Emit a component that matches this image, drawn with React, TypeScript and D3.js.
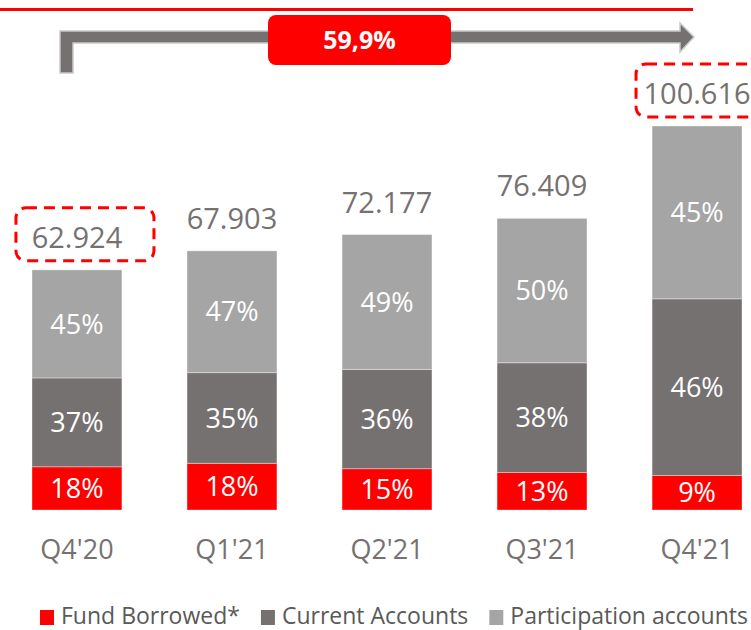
import React, { useRef, useEffect } from "react";
import * as d3 from "d3";

const quarters = ["Q4'20", "Q1'21", "Q2'21", "Q3'21", "Q4'21"];
const totals = [62924, 67903, 72177, 76409, 100616];
const totalLabels = ["62.924", "67.903", "72.177", "76.409", "100.616"];
const fundBorrowed = [18, 18, 15, 13, 9];
const currentAccounts = [37, 35, 36, 38, 46];
const participationAccounts = [45, 47, 49, 50, 45];
const seriesNames = ["Fund Borrowed*", "Current Accounts", "Participation accounts"];
const growthLabel = "59,9%";
const highlighted = ["Q4'20", "Q4'21"];

const colors = ["#FF0000", "#757171", "#A5A5A5"];
const textGrey = "#767171";
const FONT = "'Open Sans', 'DejaVu Sans', sans-serif";

const W = 751;
const H = 630;

const App = () => {
  const ref = useRef<SVGSVGElement>(null);

  useEffect(() => {
    const svg = d3.select(ref.current);
    svg.selectAll("*").remove();

    const x = d3.scaleBand().domain(quarters).range([32, 742]).paddingInner(0.42).paddingOuter(0);
    const y = d3.scaleLinear().domain([0, d3.max(totals) as number]).range([510, 126]);

    const rows = quarters.map((q, i) => {
      const shares = [fundBorrowed[i], currentAccounts[i], participationAccounts[i]];
      const sum = d3.sum(shares);
      let acc = 0;
      const segs = shares.map((s, k) => {
        const v0 = acc;
        acc += (s / sum) * totals[i];
        return { k, pct: s, v0, v1: acc };
      });
      return { q, i, segs };
    });

    // top red rule
    svg.append("rect").attr("x", 0).attr("y", 8).attr("width", 693).attr("height", 3).attr("fill", "#FF0000");

    // growth arrow
    const ax0 = 60, ax1 = 694, top = 31, bot = 43;
    svg
      .append("path")
      .attr(
        "d",
        `M${ax0},73 L${ax0},${top} L${ax1 - 14},${top} L${ax1 - 14},23 L${ax1},37 L${ax1 - 14},52 L${ax1 - 14},${bot} L${ax0 + 13},${bot} L${ax0 + 13},73 Z`
      )
      .attr("fill", "#767171")
      .attr("stroke", "#C9C9C9")
      .attr("stroke-width", 1.5);

    svg.append("rect").attr("x", 268).attr("y", 15).attr("width", 183).attr("height", 50).attr("rx", 8).attr("fill", "#FF0000");
    svg
      .append("text")
      .attr("x", 359.5)
      .attr("y", 49)
      .attr("text-anchor", "middle")
      .attr("font-family", FONT)
      .attr("font-weight", 700)
      .attr("font-size", 25)
      .attr("fill", "#fff")
      .text(growthLabel);

    // bars
    const g = svg.selectAll("g.bar").data(rows).enter().append("g").attr("class", "bar");
    g.selectAll("rect")
      .data((d) => d.segs.map((s) => ({ ...s, q: d.q })))
      .enter()
      .append("rect")
      .attr("x", (d) => x(d.q) as number)
      .attr("width", x.bandwidth())
      .attr("y", (d) => y(d.v1))
      .attr("height", (d) => y(d.v0) - y(d.v1))
      .attr("fill", (d) => colors[d.k])
      .attr("stroke", "#ffffff")
      .attr("stroke-opacity", 0.35)
      .attr("stroke-width", 1);

    g.selectAll("text.pct")
      .data((d) => d.segs.map((s) => ({ ...s, q: d.q })))
      .enter()
      .append("text")
      .attr("class", "pct")
      .attr("x", (d) => (x(d.q) as number) + x.bandwidth() / 2)
      .attr("y", (d) => (y(d.v0) + y(d.v1)) / 2)
      .attr("dy", "0.36em")
      .attr("text-anchor", "middle")
      .attr("font-family", FONT)
      .attr("font-size", 27)
      .attr("fill", "#fff")
      .text((d) => `${d.pct}%`);

    // totals
    svg
      .selectAll("text.total")
      .data(rows)
      .enter()
      .append("text")
      .attr("class", "total")
      .attr("x", (d) => (x(d.q) as number) + x.bandwidth() / 2)
      .attr("y", (d) => y(totals[d.i]) - 22)
      .attr("text-anchor", "middle")
      .attr("font-family", FONT)
      .attr("font-size", 29)
      .attr("fill", textGrey)
      .text((d) => totalLabels[d.i]);

    // dashed highlight boxes
    svg
      .selectAll("rect.hl")
      .data(rows.filter((d) => highlighted.includes(d.q)))
      .enter()
      .append("rect")
      .attr("class", "hl")
      .attr("x", (d) => (x(d.q) as number) + x.bandwidth() / 2 - 61)
      .attr("y", (d) => y(totals[d.i]) - 62)
      .attr("width", 138)
      .attr("height", 53)
      .attr("rx", 10)
      .attr("fill", "none")
      .attr("stroke", "#FF0000")
      .attr("stroke-width", 3)
      .attr("stroke-dasharray", "11,7");

    // category axis
    const axis = svg
      .append("g")
      .attr("transform", "translate(0,559)")
      .call(d3.axisBottom(x).tickSize(0).tickPadding(0));
    axis.select(".domain").remove();
    axis
      .selectAll("text")
      .attr("dy", 0)
      .attr("font-family", FONT)
      .attr("font-size", 27)
      .attr("fill", textGrey);

    // legend
    const lg = svg.append("g").attr("transform", "translate(40,0)");
    let cx = 0;
    seriesNames.forEach((name, k) => {
      lg.append("rect").attr("x", cx).attr("y", 610).attr("width", 14).attr("height", 15).attr("fill", colors[k]);
      const t = lg
        .append("text")
        .attr("x", cx + 21)
        .attr("y", 624)
        .attr("font-family", FONT)
        .attr("font-size", 23)
        .attr("fill", "#595959")
        .text(name);
      const w = (t.node() as SVGTextElement).getComputedTextLength();
      cx += 21 + w + 21;
    });
  }, []);

  return (
    <div style={{ position: "absolute", left: 0, top: 0 }}>
      <svg ref={ref} width={W} height={H} style={{ display: "block", background: "#fff" }} />
    </div>
  );
};

export default App;
